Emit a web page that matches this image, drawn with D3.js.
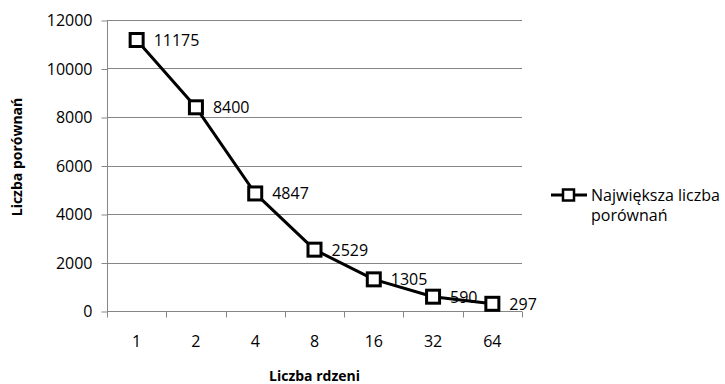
<!DOCTYPE html>
<html>
<head>
<meta charset="utf-8">
<script src="https://cdn.jsdelivr.net/npm/d3@7"></script>
<style>
  html, body { margin: 0; padding: 0; background: #fff; }
  text { font-family: "Open Sans", "Noto Sans", sans-serif; }
</style>
</head>
<body>
<svg id="chart" width="725" height="384"></svg>
<script>
// Number of cores vs. largest number of comparisons
const cores = ["1", "2", "4", "8", "16", "32", "64"];
const comparisons = [11175, 8400, 4847, 2529, 1305, 590, 297];
const yTicks = [0, 2000, 4000, 6000, 8000, 10000, 12000];
const seriesName = ["Największa liczba", "porównań"];
const xTitle = "Liczba rdzeni";
const yTitle = "Liczba porównań";

const svg = d3.select("#chart");
const plotL = 107, plotR = 522, plotT = 20, plotB = 311;
const gridColor = "#868686";

const x = d3.scaleBand().domain(cores).range([plotL, plotR]);
const y = d3.scaleLinear().domain([0, 12000]).range([plotB, plotT]);

// Horizontal gridlines
svg.append("g")
  .selectAll("line")
  .data(yTicks.filter(d => d > 0))
  .join("line")
  .attr("x1", plotL).attr("x2", plotR)
  .attr("y1", d => Math.round(y(d)) + 0.5).attr("y2", d => Math.round(y(d)) + 0.5)
  .attr("stroke", gridColor).attr("stroke-width", 1);

// Y axis
const yAxis = svg.append("g")
  .attr("transform", `translate(${plotL + 0.5},0.5)`)
  .call(d3.axisLeft(y).tickValues(yTicks).tickSize(6).tickPadding(9).tickFormat(d3.format("d")));
yAxis.select(".domain").attr("stroke", gridColor).attr("d", `M0,${plotT}V${plotB}`);
yAxis.selectAll(".tick line").attr("stroke", gridColor);
yAxis.selectAll(".tick text").attr("fill", "#000").style("font-size", "16px")
  .style("font-family", "'Open Sans', sans-serif");

// X axis with tick marks on category boundaries
const xAxis = svg.append("g")
  .attr("transform", `translate(0,${plotB + 0.5})`);
xAxis.append("line")
  .attr("x1", plotL).attr("x2", plotR)
  .attr("stroke", gridColor);
const boundaries = cores.map(c => x(c)).concat([x(cores[cores.length - 1]) + x.bandwidth()]);
xAxis.selectAll("line.tk")
  .data(boundaries)
  .join("line").attr("class", "tk")
  .attr("x1", d => Math.round(d) + 0.5).attr("x2", d => Math.round(d) + 0.5)
  .attr("y1", 0).attr("y2", 6)
  .attr("stroke", gridColor);
xAxis.selectAll("text")
  .data(cores)
  .join("text")
  .attr("x", d => x(d) + x.bandwidth() / 2)
  .attr("y", 35)
  .attr("text-anchor", "middle")
  .style("font-size", "16px")
  .text(d => d);

// Line
const cx = d => x(d) + x.bandwidth() / 2;
const line = d3.line().x((d, i) => cx(cores[i])).y(d => y(d));
svg.append("path")
  .datum(comparisons)
  .attr("d", line)
  .attr("fill", "none")
  .attr("stroke", "#000")
  .attr("stroke-width", 3)
  .attr("stroke-linejoin", "round");

// Square markers
const ms = 13;
svg.append("g")
  .selectAll("rect")
  .data(comparisons)
  .join("rect")
  .attr("x", (d, i) => cx(cores[i]) - ms / 2)
  .attr("y", d => y(d) - ms / 2)
  .attr("width", ms).attr("height", ms)
  .attr("fill", "#fff")
  .attr("stroke", "#000")
  .attr("stroke-width", 3);

// Value labels
svg.append("g")
  .selectAll("text")
  .data(comparisons)
  .join("text")
  .attr("x", (d, i) => cx(cores[i]) + 17)
  .attr("y", d => y(d) + 6)
  .style("font-size", "16px")
  .text(d => d);

// Axis titles
svg.append("text")
  .attr("x", (plotL + plotR) / 2)
  .attr("y", 381)
  .attr("text-anchor", "middle")
  .style("font-size", "14px")
  .style("font-weight", "bold")
  .text(xTitle);
svg.append("text")
  .attr("transform", "translate(22,157) rotate(-90)")
  .attr("text-anchor", "middle")
  .style("font-size", "14px")
  .style("font-weight", "bold")
  .text(yTitle);

// Legend
const lg = svg.append("g").attr("transform", "translate(551,195)");
lg.append("line").attr("x1", 0).attr("x2", 36).attr("y1", 0).attr("y2", 0)
  .attr("stroke", "#000").attr("stroke-width", 3);
lg.append("rect").attr("x", 12).attr("y", -5.5).attr("width", 11).attr("height", 11)
  .attr("fill", "#fff").attr("stroke", "#000").attr("stroke-width", 2.5);
lg.selectAll("text.lt")
  .data(seriesName)
  .join("text").attr("class", "lt")
  .attr("x", 40)
  .attr("y", (d, i) => 6 + i * 20)
  .style("font-size", "16px")
  .text(d => d);
</script>
</body>
</html>
